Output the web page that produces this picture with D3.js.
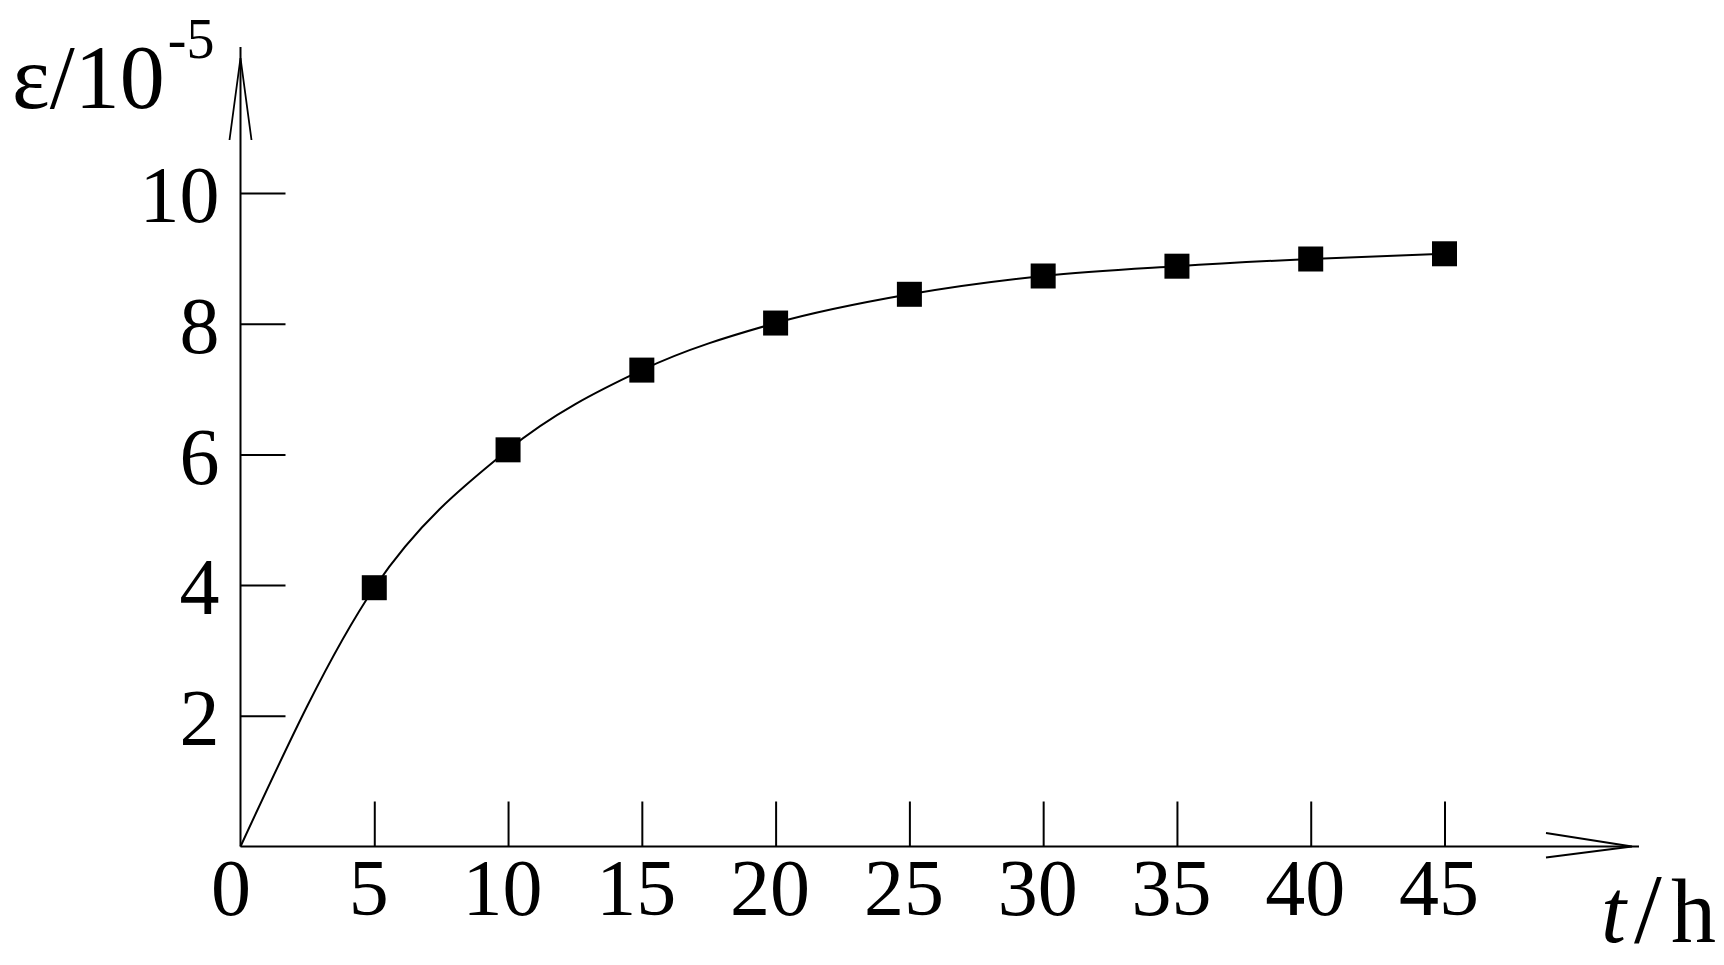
<!DOCTYPE html>
<html>
<head>
<meta charset="utf-8">
<script src="https://cdn.jsdelivr.net/npm/d3@7"></script>
<style>
  html, body { margin: 0; padding: 0; background: #fff; }
  svg { display: block; }
  text { font-family: "Liberation Serif", "Times New Roman", serif; fill: #000; }
</style>
</head>
<body>
<script>
// ---- data ----
const timeH = [5, 10, 15, 20, 25, 30, 35, 40, 45];
const strain = [3.96, 6.07, 7.29, 8.01, 8.45, 8.73, 8.88, 8.99, 9.07];
const xTicks = [0, 5, 10, 15, 20, 25, 30, 35, 40, 45];
const yTicks = [2, 4, 6, 8, 10];
const curveStart = [[0, 0]];

const W = 1724, H = 965;
const svg = d3.select("body").append("svg").attr("width", W).attr("height", H);

const x = d3.scaleLinear().domain([0, 45]).range([240.5, 1444.5]);
const y = d3.scaleLinear().domain([0, 10]).range([846.5, 193]);

// x axis
const gx = svg.append("g").attr("transform", `translate(0,${y(0)})`)
  .call(d3.axisBottom(x).tickValues(xTicks).tickFormat(d3.format("d"))
        .tickSizeInner(-45).tickSizeOuter(0).tickPadding(12));
gx.select(".domain").remove();
gx.selectAll(".tick line").attr("stroke", "#000").attr("stroke-width", 2)
  .filter(d => d === 0).remove();
gx.selectAll(".tick text").attr("font-size", 80)
  .attr("font-family", "Liberation Serif, serif")
  .attr("dx", d => d === 0 ? -10 : -6);

// y axis
const gy = svg.append("g").attr("transform", `translate(${x(0)},0)`)
  .call(d3.axisLeft(y).tickValues(yTicks).tickFormat(d3.format("d"))
        .tickSizeInner(-45).tickSizeOuter(0).tickPadding(21));
gy.select(".domain").remove();
gy.selectAll(".tick line").attr("stroke", "#000").attr("stroke-width", 2);
gy.selectAll(".tick text").attr("font-size", 80)
  .attr("font-family", "Liberation Serif, serif")
  .attr("dy", "0.36em");

// axis lines with open arrows
const ax = svg.append("g").attr("stroke", "#000").attr("fill", "none");
const x0 = x(0), y0 = y(0);
ax.append("line").attr("x1", x0).attr("y1", y0).attr("x2", 1639).attr("y2", y0).attr("stroke-width", 2);
ax.append("line").attr("x1", x0).attr("y1", y0).attr("x2", x0).attr("y2", 47).attr("stroke-width", 2);
ax.append("path").attr("stroke-width", 1.8)
  .attr("d", `M1546,${y0 - 13.5}L1632,${y0}L1546,${y0 + 11}`);
ax.append("path").attr("stroke-width", 1.8)
  .attr("d", `M${x0 - 11},140L${x0},58L${x0 + 11},140`);

// curve
const pts = curveStart.concat(timeH.map((t, i) => [t, strain[i]]));
const line = d3.line().x(d => x(d[0])).y(d => y(d[1])).curve(d3.curveMonotoneX);
svg.append("path").datum(pts).attr("d", line)
  .attr("fill", "none").attr("stroke", "#000").attr("stroke-width", 2);

// markers
const s = 25;
svg.append("g").selectAll("rect").data(timeH).join("rect")
  .attr("x", (t) => x(t) - s / 2)
  .attr("y", (t, i) => y(strain[i]) - s / 2)
  .attr("width", s).attr("height", s).attr("fill", "#000");

// y title
const yt = svg.append("text").attr("x", 12).attr("y", 108).attr("font-size", 90);
yt.append("tspan").text("ε/10");
yt.append("tspan").attr("font-size", 56).attr("dx", 3).attr("dy", -50).text("-5");

// x title
const xt = svg.append("text").attr("y", 942).attr("font-size", 90);
xt.append("tspan").attr("x", 1601).attr("font-style", "italic").text("t");
xt.append("tspan").attr("x", 1634).attr("font-size", 100).text("/");
xt.append("tspan").attr("x", 1671).text("h");
</script>
</body>
</html>
